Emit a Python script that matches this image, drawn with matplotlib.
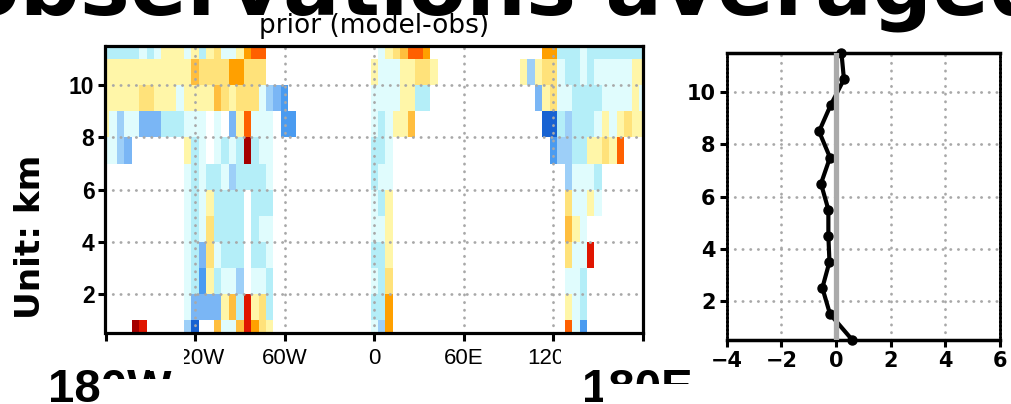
import numpy as np
import matplotlib
matplotlib.use('Agg')
import matplotlib.pyplot as plt
from matplotlib.colors import ListedColormap, BoundaryNorm
from matplotlib.patches import Rectangle

# ---------------- data ----------------
# cell centres
lon_centres = np.arange(-180, 181, 5)          # 73 columns
height_centres = np.arange(0.5, 12.0, 1.0)     # 12 levels (km)

# binned (model - obs) class per cell, one string per level from bottom (0.5 km) to top (11.5 km)
# D=-6 B=-5 M=-4 L=-3 C=-2 c=-1 .=no data 1..7 positive classes
level_rows = [
    "....76...." + ".LD..3cc36" + "421......." + "......cL4." + ".........." + ".........." + "..5cB....." + "...",
    ".........." + ".cMMMM13C6" + "12C......." + "......CC4." + ".........." + ".........." + "..1cC....." + "...",
    ".........." + ".cCB1CccL." + "ccC......." + "......cC2." + ".........." + ".........." + "..ccC....." + "...",
    ".........." + ".cCM2cCCC." + "CCc......." + "......CC1." + ".........." + ".........." + "..2cc6...." + "...",
    ".........." + ".cCc2CCCC." + "Ccc......." + "......cc1." + ".........." + ".........." + "..31c....." + "...",
    ".........." + ".cCc1CCCC." + "CCC......." + "......cC1." + ".........." + ".........." + "..2cc1c..." + "...",
    ".........." + ".cCcCCcLCC" + "CCc......." + "......Ccc." + ".........." + ".........." + "..LcccC..." + "...",
    "ccLM......" + ".1Cc.cCcC7" + "Ccc......." + "......CCc." + ".........." + ".........." + "BLLCC11215" + "...",
    "1cLccMMMCC" + "Cccc.c.M15" + "ccc.BB...." + "......cCc1" + "13........" + ".........D" + "DCLCCCc1c1" + "211",
    "1111122111" + "c111132122" + "2cLMB....." + "......cccc" + "11CC......" + "........M1" + "2ccCCCCccc" + "c1c",
    "1111111111" + "1132222442" + "22........" + "......1ccc" + "11221....." + "......1L12" + "2cCCcCcccc" + "c11",
    "CCCCCcCc11" + "1c1C12cc14" + "55........" + ".......c12" + "3554......" + ".........4" + "4CCCcCCCCC" + "CCC",
]
class_of = {'D': -6, 'B': -5, 'M': -4, 'L': -3, 'C': -2, 'c': -1, '.': 0,
            '1': 1, '2': 2, '3': 3, '4': 4, '5': 5, '6': 6, '7': 7}

class_colors = ['#1762d2', '#4a9bf0', '#7ab6f5', '#9dcff8', '#b4eef8', '#e0fcfd', '#ffffff',
                '#fff6a8', '#ffe27a', '#ffbe3e', '#ffa000', '#ff6000', '#e01500', '#a50000']

# right panel profile
profile_height = [0.5, 1.5, 2.5, 3.5, 4.5, 5.5, 6.5, 7.5, 8.5, 9.5, 10.5, 11.5]
profile_value = [0.6, -0.22, -0.5, -0.24, -0.28, -0.28, -0.55, -0.22, -0.62, -0.2, 0.29, 0.2]

lon_ticks = [-180, -120, -60, 0, 60, 120, 180]
lon_labels = ['', '120W', '60W', '0', '60E', '120E', '']
height_ticks = [2, 4, 6, 8, 10]
prof_xticks = [-4, -2, 0, 2, 4, 6]

# ---------------- figure ----------------
W, H = 1012, 404
fig = plt.figure(figsize=(W / 100, H / 100), dpi=100)
fig.patch.set_facecolor('white')

def fx(px):
    return px / W

def fy(py):
    return 1 - py / H

grid_kw = dict(color='#a8a8a8', linewidth=2.0, linestyle=(0, (0.1, 2.67)),
               dash_capstyle='round')

# ---- left: heat map ----
axL = fig.add_axes([fx(105.5), fy(333.4), fx(643) - fx(105.5), fy(45.9) - fy(333.4)])
Z = np.array([[class_of[ch] for ch in r] for r in level_rows], dtype=float)
Zm = np.ma.masked_equal(Z, 0)
lon_edges = np.append(lon_centres - 2.5, lon_centres[-1] + 2.5)
h_edges = np.append(height_centres - 0.5, height_centres[-1] + 0.5)
cmap = ListedColormap(class_colors)
cmap.set_bad('white')
norm = BoundaryNorm(np.arange(-6.5, 8.5, 1.0), cmap.N)
axL.pcolormesh(lon_edges, h_edges, Zm, cmap=cmap, norm=norm, zorder=1)
axL.set_xlim(-180, 180)
axL.set_ylim(0.5, 11.5)
axL.set_xticks(lon_ticks)
axL.set_xticklabels(lon_labels)
axL.set_yticks(height_ticks)
axL.set_yticklabels([str(t) for t in height_ticks])
for gx in lon_ticks[1:-1]:
    axL.axvline(gx, zorder=3, **grid_kw)
for gy in height_ticks:
    axL.axhline(gy, zorder=3, **grid_kw)
for s in axL.spines.values():
    s.set_linewidth(2.3)
    s.set_zorder(5)
axL.tick_params(axis='x', direction='out', length=6, width=2.2, pad=4.5,
                labelsize=16)
axL.tick_params(axis='y', direction='out', length=5, width=2.2, pad=3,
                labelsize=16.5)
for lab in axL.get_xticklabels():
    lab.set_family(['Liberation Sans', 'DejaVu Sans'])
for lab in axL.get_yticklabels():
    lab.set_family(['Liberation Sans', 'DejaVu Sans'])
    lab.set_weight('bold')

fig.text(fx(374), fy(33), 'prior (model-obs)', ha='center', va='baseline',
         fontsize=19, family='DejaVu Sans')

# ---- right: profile ----
axR = fig.add_axes([fx(726.7), fy(340.1), fx(1000) - fx(726.7), fy(53.2) - fy(340.1)])
axR.set_xlim(-4, 6)
axR.set_ylim(0.5, 11.5)
axR.set_xticks(prof_xticks)
axR.set_yticks(height_ticks)
axR.set_yticklabels([str(t) for t in height_ticks])
for gx in prof_xticks[1:-1]:
    axR.axvline(gx, zorder=1, **grid_kw)
for gy in height_ticks:
    axR.axhline(gy, zorder=1, **grid_kw)
axR.plot(profile_value, profile_height, color='black', linewidth=3.0,
         marker='o', markersize=6.5, zorder=3, clip_on=False)
axR.axvline(0, color='#aaaaaa', linewidth=3.8, zorder=4)
for k in ['top', 'bottom']:
    axR.spines[k].set_linewidth(2.5)
for k in ['left', 'right']:
    axR.spines[k].set_linewidth(2.0)
    axR.spines[k].set_linestyle((0, (0.7, 0.7)))
axR.tick_params(axis='both', direction='out', length=5, width=2.2, pad=3,
                labelsize=15)
for lab in axR.get_xticklabels() + axR.get_yticklabels():
    lab.set_family('DejaVu Sans')
    lab.set_weight('bold')

# ---- big texts ----
fig.text(0.5, fy(15), 'observations averaged', ha='center', va='baseline',
         fontsize=60.5, weight='bold', family='DejaVu Sans')
fig.text(fx(31), fy(237), 'Unit: km', rotation=90, ha='center', va='center',
         fontsize=24.7, weight='bold', family='DejaVu Sans')
fig.text(fx(48), fy(402), '180W', ha='left', va='baseline',
         fontsize=34, weight='bold', family=['Liberation Sans', 'DejaVu Sans'])
fig.text(fx(582), fy(402), '180E', ha='left', va='baseline',
         fontsize=34, weight='bold', family=['Liberation Sans', 'DejaVu Sans'])

# white areas that hide parts of the labels, as in the reference
for (x0, y0, x1, y1) in [(100, 379, 178, 404), (603, 384, 705, 404),
                         (150, 340, 184, 371), (561, 340, 600, 369)]:
    fig.patches.append(Rectangle((fx(x0), fy(y1)), fx(x1) - fx(x0), fy(y0) - fy(y1),
                                 transform=fig.transFigure, facecolor='white',
                                 edgecolor='none', zorder=10))

fig.savefig('out.png', dpi=100, facecolor='white')
